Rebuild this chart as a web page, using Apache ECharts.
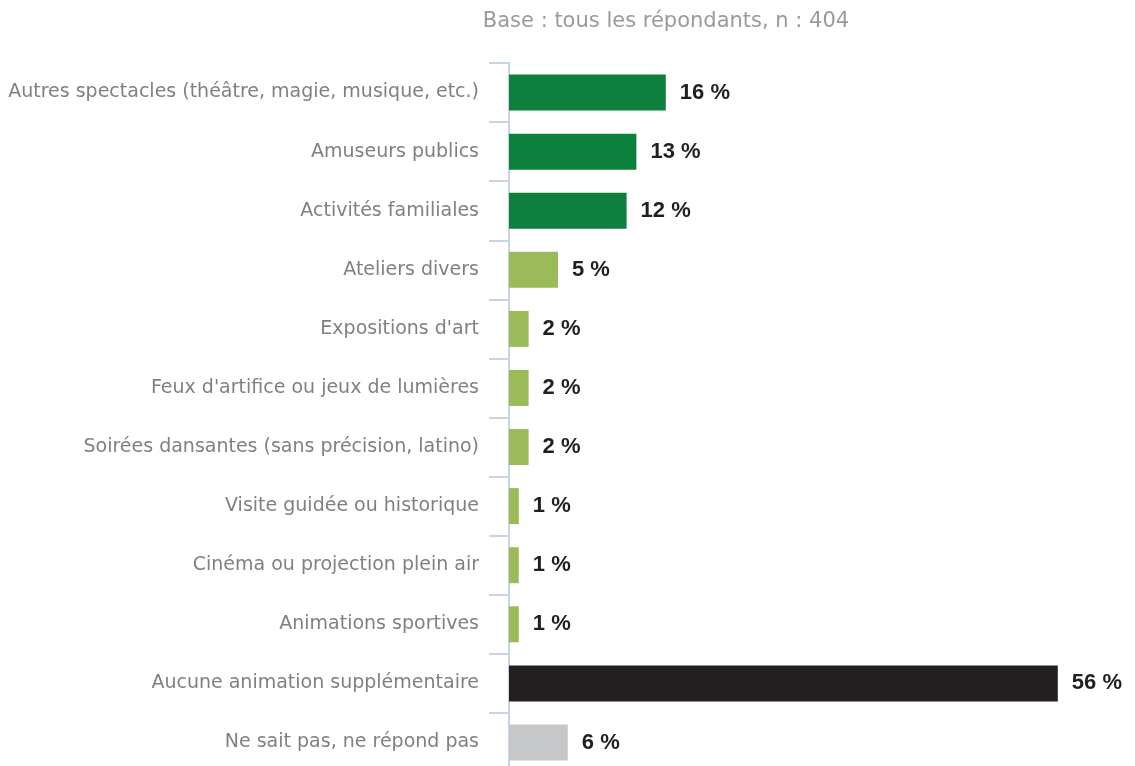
<!DOCTYPE html>
<html>
<head>
<meta charset="utf-8">
<script src="https://cdn.jsdelivr.net/npm/echarts@6/dist/echarts.min.js"></script>
<style>
  html, body { margin: 0; padding: 0; background: #ffffff; overflow: hidden; }
  /* the plot runs past the bottom edge of the window, like a cut-off slide */
  #chart { width: 1135px; height: 790px; }
</style>
</head>
<body>
<div id="chart"></div>
<script>
// Activités souhaitées, part des répondants (%)
const categories = [
  "Autres spectacles (théâtre, magie, musique, etc.)",
  "Amuseurs publics",
  "Activités familiales",
  "Ateliers divers",
  "Expositions d'art",
  "Feux d'artifice ou jeux de lumières",
  "Soirées dansantes (sans précision, latino)",
  "Visite guidée ou historique",
  "Cinéma ou projection plein air",
  "Animations sportives",
  "Aucune animation supplémentaire",
  "Ne sait pas, ne répond pas"
];
const values = [16, 13, 12, 5, 2, 2, 2, 1, 1, 1, 56, 6];
// Groupe de couleur de chaque barre
const groups = ["top", "top", "top", "other", "other", "other", "other", "other", "other", "other", "none", "dk"];
const groupColors = { top: "#0e803e", other: "#9bbb59", none: "#231f20", dk: "#c6c7c9" };
const subtitle = "Base : tous les répondants, n : 404";

const chart = echarts.init(document.getElementById("chart"), null, { renderer: "canvas" });

chart.setOption({
  animation: false,
  graphic: [{
    type: "text",
    x: 666,
    y: 22,
    style: {
      text: subtitle,
      align: "center",
      verticalAlign: "middle",
      font: "21px 'DejaVu Sans', sans-serif",
      fill: "#9a9a9a"
    }
  }],
  grid: { left: 509, top: 63, width: 588, height: 709, containLabel: false },
  xAxis: {
    type: "value",
    min: 0,
    max: 60,
    show: false
  },
  yAxis: {
    type: "category",
    data: categories,
    inverse: true,
    axisLine: { show: true, lineStyle: { color: "#c5d5e6", width: 2 } },
    axisTick: { show: true, length: 20, lineStyle: { color: "#c5d5e6", width: 2 } },
    axisLabel: {
      margin: 30,
      fontFamily: "'DejaVu Sans', sans-serif",
      fontSize: 19,
      color: "#808080"
    },
    splitLine: { show: false }
  },
  series: [{
    type: "bar",
    barWidth: 36,
    data: values.map((v, i) => ({ value: v, itemStyle: { color: groupColors[groups[i]] } })),
    label: {
      show: true,
      position: "right",
      distance: 14,
      formatter: p => p.value + " %",
      fontFamily: "Arial, sans-serif",
      fontSize: 22,
      fontWeight: "bold",
      color: "#231f20"
    }
  }]
});
</script>
</body>
</html>
